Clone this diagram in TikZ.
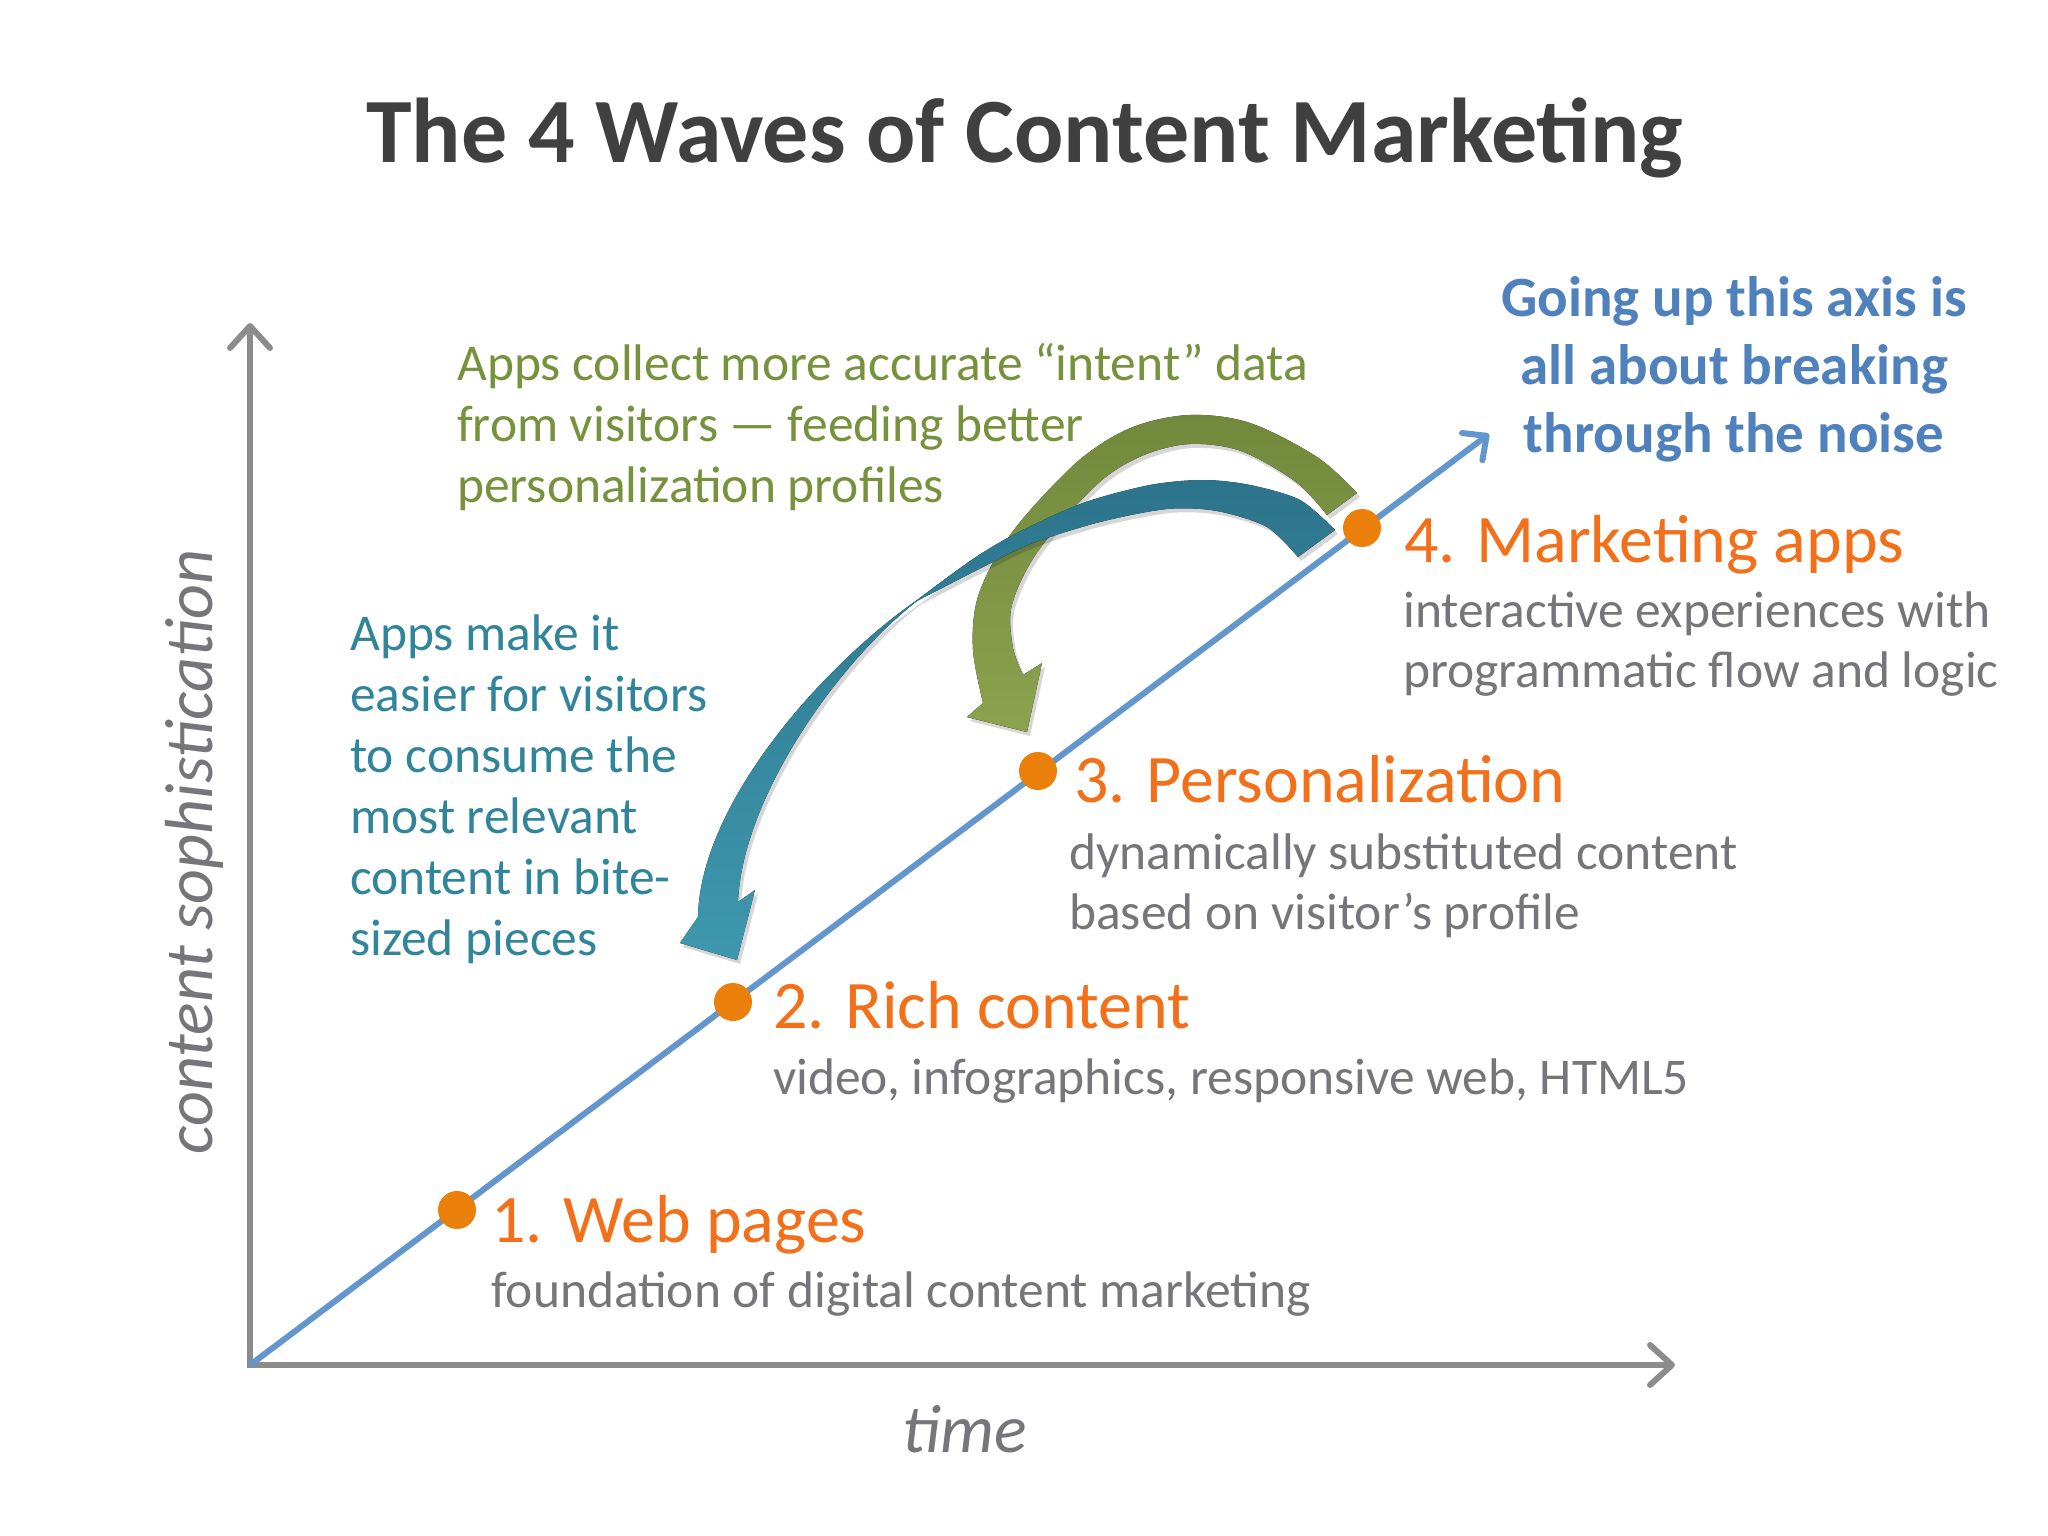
\documentclass[tikz,border=0pt]{standalone}
\usepackage{fontspec}
\setmainfont{Carlito}
\usetikzlibrary{arrows.meta,shadows}
\definecolor{ttl}{RGB}{64,64,64}
\definecolor{axgray}{RGB}{140,140,140}
\definecolor{txgray}{RGB}{118,118,122}
\definecolor{orng}{RGB}{243,112,26}
\definecolor{dotor}{RGB}{234,128,10}
\definecolor{diagblue}{RGB}{98,150,205}
\definecolor{grtext}{RGB}{118,146,60}
\definecolor{tltext}{RGB}{49,133,155}
\definecolor{bltext}{RGB}{79,129,189}
\definecolor{grdark}{RGB}{114,136,60}
\definecolor{grlight}{RGB}{140,162,78}
\definecolor{tldark}{RGB}{44,116,140}
\definecolor{tllight}{RGB}{62,152,174}
\newcommand{\leftlines}[1]{\begin{tabular}[t]{@{}l@{}}#1\end{tabular}}
\newcommand{\midlines}[1]{\begin{tabular}[t]{@{}c@{}}#1\end{tabular}}
\tikzset{axbarb/.tip={Straight Barb[length=22pt, width=40pt, line cap=round, line join=round]},
  diagbarb/.tip={Straight Barb[length=18pt, width=34pt, line cap=round, line join=round]}}
\begin{document}
\begin{tikzpicture}[x=1pt,y=-1pt,
  lbl/.style={inner sep=0pt, anchor=base west, text=orng, font=\fontsize{68}{80}\selectfont},
  desc/.style={inner sep=0pt, anchor=base west, text=txgray, font=\fontsize{51.5}{60}\selectfont},
  note/.style={inner sep=0pt, anchor=base west, font=\fontsize{51.5}{61}\selectfont},
  dotn/.style={circle, fill=dotor, minimum size=38pt, inner sep=0pt},
  axisline/.style={draw=axgray, line width=6pt, line join=miter},
  diagline/.style={draw=diagblue, line width=6pt},
  softshadow/.style={drop shadow={shadow xshift=3pt, shadow yshift=-4pt, opacity=0.16, fill=black}}
]
\useasboundingbox (0,0) rectangle (2048,1536);
\fill[white] (0,0) rectangle (2048,1536);

% title
\node[inner sep=0pt, anchor=base, text=ttl, font=\fontsize{92}{100}\selectfont\bfseries] (title) at (1025,162) {The 4 Waves of Content Marketing};

% axes
\coordinate (O) at (250,1365);
\coordinate (Ytop) at (250,323);
\coordinate (Xend) at (1675,1365);
\coordinate (Dend) at (1489,434);
\draw[axisline, {axbarb}-{axbarb}] (Ytop) -- (O) -- (Xend);
\node[inner sep=0pt, text=txgray, rotate=90, font=\fontsize{68}{76}\selectfont\itshape] (ylab) at (194,852) {content sophistication};
\node[inner sep=0pt, anchor=base, text=txgray, font=\fontsize{68}{76}\selectfont\itshape] (xlab) at (965,1452) {time};

% diagonal
\draw[diagline, -{diagbarb}] (O) -- (Dend);

% green curved arrow
\fill[top color=grdark, bottom color=grlight, softshadow]
  plot[smooth, tension=0.55] coordinates {(1357,493) (1317,457) (1250,423) (1190,415) (1133,427) (1083,457) (1033,507) (1000,550) (977,600) (973,650) (983,703)}
  -- (967,717) -- (1027,732) -- (1042,663) -- (1023,675)
  -- plot[smooth, tension=0.55] coordinates {(1023,675) (1013,648) (1011,609) (1028,567) (1056,528) (1102,480) (1144,455) (1190,444) (1241,451) (1296,482) (1327,515)}
  -- cycle;

% teal curved arrow
\fill[top color=tldark, bottom color=tllight, softshadow]
  plot[smooth, tension=0.5] coordinates {(1335,530) (1300,500) (1250,485) (1203,480) (1150,485) (1083,503) (1017,533) (973,559) (917,600)}
  .. controls (820,668) and (700,805) .. (698,917)
  -- (680,943) -- (737,960) -- (755,890) -- (738,902)
  .. controls (742,800) and (835,665) .. (917,601)
  -- plot[smooth, tension=0.5] coordinates {(917,601) (983,567) (1033,543) (1100,522) (1167,509) (1217,511) (1267,527) (1298,557)}
  -- cycle;

% dots
\node[dotn] (d1) at (457,1210) {};
\node[dotn] (d2) at (733,1002) {};
\node[dotn] (d3) at (1038,771) {};
\node[dotn] (d4) at (1362,528) {};

% wave labels
\node[lbl] (w1) at (491,1242) {1. Web pages};
\node[desc] (s1) at (491,1307) {foundation of digital content marketing};
\node[lbl] (w2) at (773,1028) {2. Rich content};
\node[desc] (s2) at (773,1094) {video, infographics, responsive web, HTML5};
\node[lbl] (w3) at (1074,802) {3. Personalization};
\node[desc] (s3) at (1069,869) {\leftlines{dynamically substituted content\\based on visitor’s profile}};
\node[lbl] (w4) at (1404,562) {4. Marketing apps};
\node[desc] (s4) at (1403,627) {\leftlines{interactive experiences with\\programmatic flow and logic}};

% notes
\node[note, text=grtext] (gnote) at (457,380) {\leftlines{Apps collect more accurate “intent” data\\from visitors — feeding better\\personalization profiles}};
\node[note, text=tltext] (tnote) at (350,650) {\leftlines{Apps make it\\easier for visitors\\to consume the\\most relevant\\content in bite-\\sized pieces}};
\node[inner sep=0pt, anchor=base, text=bltext, font=\fontsize{57}{68}\selectfont\bfseries] (bnote) at (1734,316) {\midlines{Going up this axis is\\all about breaking\\through the noise}};
\end{tikzpicture}
\end{document}
